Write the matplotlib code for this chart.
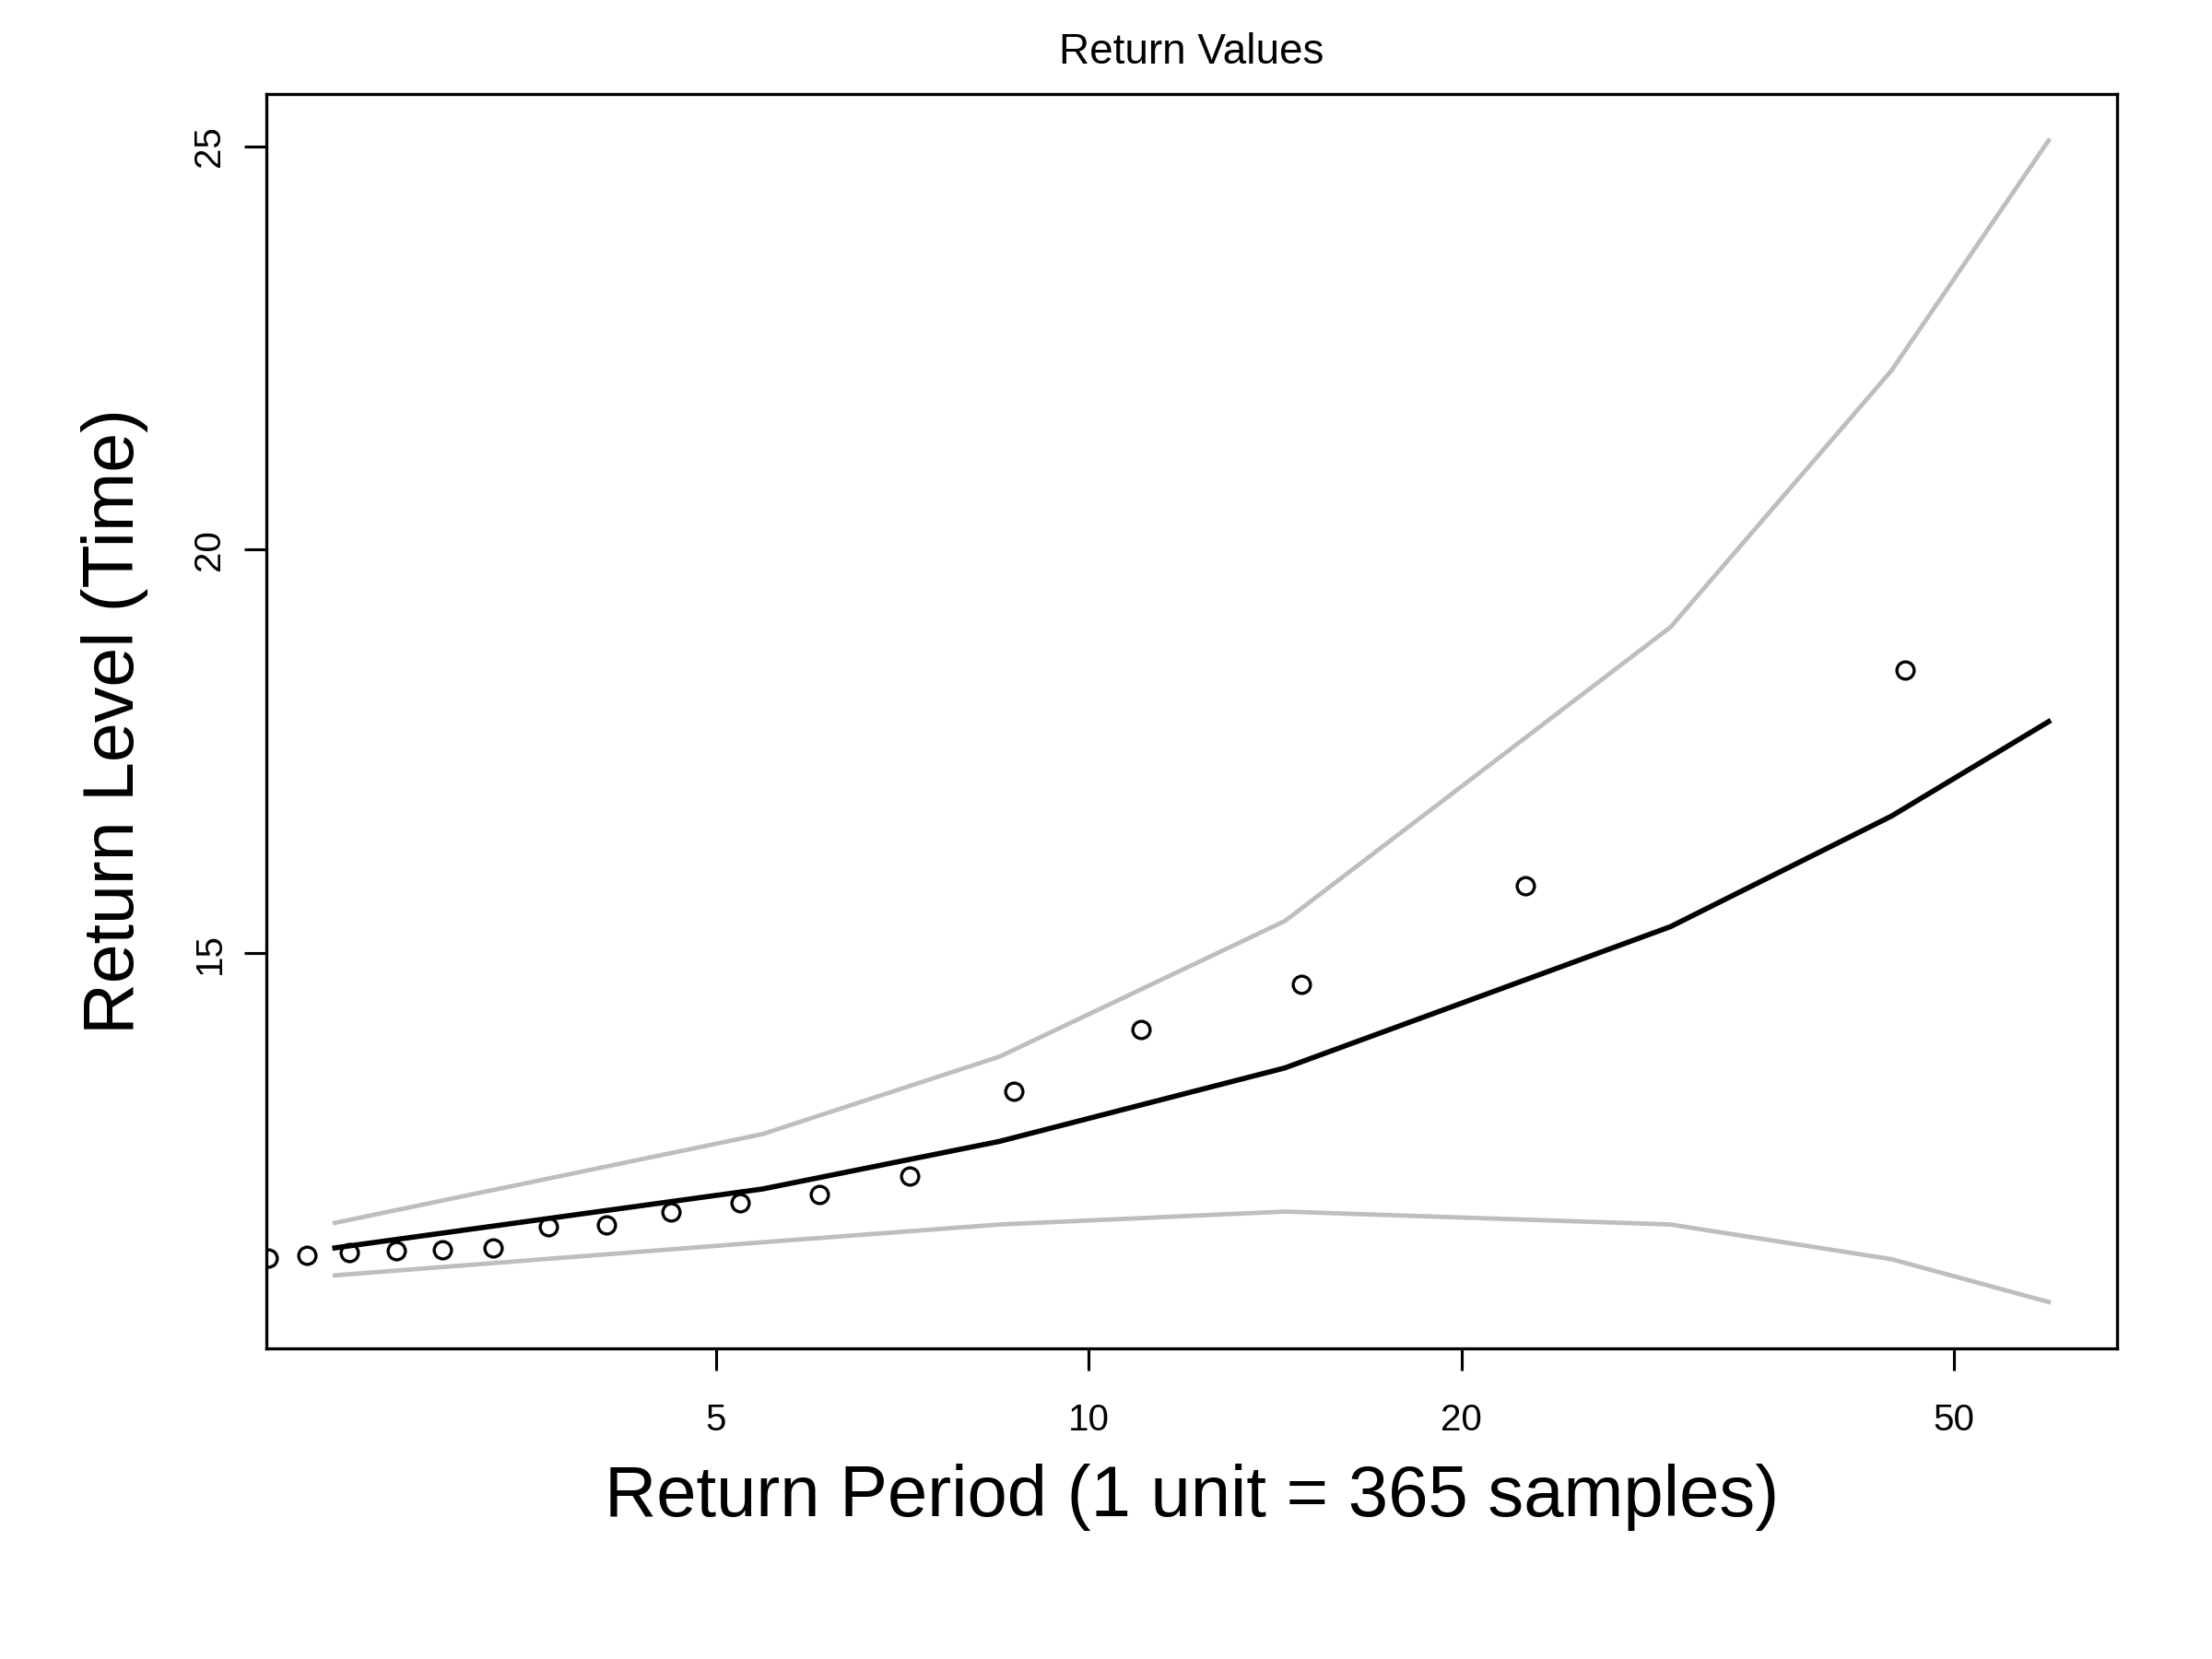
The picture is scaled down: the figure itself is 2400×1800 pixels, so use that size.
import numpy as np
import matplotlib
matplotlib.use("Agg")
import matplotlib.pyplot as plt
from matplotlib.ticker import FixedLocator, NullLocator, FixedFormatter

plt.rcParams['font.family'] = ['Liberation Sans', 'DejaVu Sans']

# fitted return level curve and confidence bounds
period = [2.46, 5.45, 8.47, 14.4, 29.5, 44.5, 59.6]
level = [11.35, 12.08, 12.67, 13.58, 15.33, 16.70, 17.87]
upper = [11.66, 12.76, 13.72, 15.40, 19.04, 22.22, 25.07]
lower = [11.01, 11.42, 11.64, 11.80, 11.64, 11.21, 10.68]

# empirical return levels
obs_period = [2.172, 2.337, 2.528, 2.757, 3.006, 3.304, 3.660, 4.076, 4.598,
              5.228, 6.056, 7.161, 8.70, 11.01, 14.85, 22.53, 45.62]
obs_level = [11.22, 11.26, 11.29, 11.31, 11.33, 11.35, 11.61, 11.64, 11.80,
             11.91, 12.01, 12.24, 13.29, 14.06, 14.62, 15.84, 18.51]

x_ticks = [5, 10, 20, 50]
y_ticks = [15, 20, 25]

fig = plt.figure(figsize=(8, 6), dpi=300)
ax = fig.add_axes([0.1204, 0.1872, 0.8367, 0.7561])

ax.plot(period, upper, color='#BEBEBE', lw=1.15, zorder=2)
ax.plot(period, lower, color='#BEBEBE', lw=1.15, zorder=2)
ax.plot(period, level, color='black', lw=1.35, zorder=3)
ax.plot(obs_period, obs_level, 'o', mfc='none', mec='black', ms=4.5, mew=0.8, zorder=4)

# R style axis range: 4% beyond the curve
ax.set_xscale('log')
lx = np.log10([min(period), max(period)])
pad = 0.04 * (lx[1] - lx[0])
ax.set_xlim(10 ** (lx[0] - pad), 10 ** (lx[1] + pad))
ylo = min(lower)
yhi = max(upper)
ypad = 0.04 * (yhi - ylo)
ax.set_ylim(ylo - ypad, yhi + ypad)

ax.xaxis.set_major_locator(FixedLocator(x_ticks))
ax.xaxis.set_major_formatter(FixedFormatter([str(t) for t in x_ticks]))
ax.xaxis.set_minor_locator(NullLocator())
ax.yaxis.set_major_locator(FixedLocator(y_ticks))

ax.tick_params(axis='both', length=5.7, width=0.75, labelsize=9.7, color='black')
ax.tick_params(axis='x', pad=8.5)
ax.tick_params(axis='y', pad=4.5, labelrotation=90)
for lab in ax.get_yticklabels():
    lab.set_va('center')

for sp in ax.spines.values():
    sp.set_linewidth(0.8)

ax.set_title('Return Values', fontsize=11, pad=8)
ax.set_xlabel('Return Period (1 unit = 365 samples)', fontsize=18.7, va='center')
ax.xaxis.set_label_coords(0.5, -0.119)
ax.set_ylabel('Return Level (Time)', fontsize=18.5, va='center')
ax.yaxis.set_label_coords(-0.0819, 0.5)

fig.savefig('out.png', dpi=300)
